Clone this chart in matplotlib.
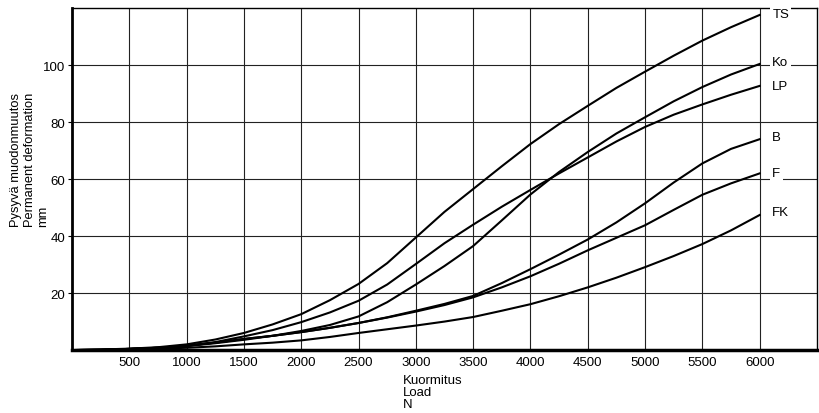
import matplotlib
matplotlib.use("Agg")
import matplotlib.pyplot as plt

plt.rcParams['font.family'] = ['Liberation Sans', 'DejaVu Sans']

# kuormitus / load, N
load = [0, 250, 500, 750, 1000, 1250, 1500, 1750, 2000, 2250, 2500, 2750, 3000,
        3250, 3500, 3750, 4000, 4250, 4500, 4750, 5000, 5250, 5500, 5750, 6000]

# pysyvä muodonmuutos / permanent deformation, mm
ts = [0, 0.2, 0.5, 1.0, 2.0, 3.7, 6.0, 9.0, 12.6, 17.5, 23.2, 30.5, 39.5,
      48.5, 56.5, 64.5, 72.3, 79.3, 85.7, 92.0, 97.7, 103.3, 108.6, 113.3, 117.6]
ko = [0, 0.1, 0.4, 0.8, 1.4, 2.4, 3.6, 5.0, 6.7, 8.8, 11.8, 16.8, 23.0,
      29.5, 36.5, 45.5, 54.6, 62.5, 69.5, 76.0, 81.7, 87.3, 92.3, 96.7, 100.4]
lp = [0, 0.1, 0.4, 0.8, 1.5, 2.8, 4.8, 7.0, 9.8, 13.2, 17.3, 23.0, 30.2,
      37.5, 44.0, 50.3, 56.2, 62.0, 67.6, 73.2, 78.3, 82.6, 86.2, 89.6, 92.7]
b = [0, 0.1, 0.4, 0.8, 1.5, 2.6, 3.9, 5.0, 6.3, 7.8, 9.5, 11.5, 13.8,
     16.2, 19.0, 23.5, 28.4, 33.5, 38.8, 44.8, 51.5, 58.8, 65.5, 70.6, 74.0]
f = [0, 0.1, 0.4, 0.8, 1.5, 2.6, 3.9, 5.0, 6.3, 7.8, 9.5, 11.4, 13.5,
     15.8, 18.5, 22.0, 25.9, 30.3, 35.0, 39.4, 43.8, 49.2, 54.5, 58.5, 62.0]
fk = [0, 0.05, 0.2, 0.5, 0.8, 1.3, 2.0, 2.6, 3.4, 4.6, 6.0, 7.3, 8.6,
      10.0, 11.6, 13.8, 16.1, 18.9, 22.0, 25.4, 29.1, 33.0, 37.2, 42.0, 47.4]

series = [("TS", ts), ("Ko", ko), ("LP", lp), ("B", b), ("F", f), ("FK", fk)]
label_y = {"TS": 118, "Ko": 101, "LP": 92.7, "B": 74.8, "F": 62.1, "FK": 48.4}

x_ticks = [500, 1000, 1500, 2000, 2500, 3000, 3500, 4000, 4500, 5000, 5500, 6000]
y_ticks = [20, 40, 60, 80, 100]

fig = plt.figure(figsize=(8.2, 4.14), dpi=100, facecolor='white')
ax = fig.add_axes([0.0878, 0.152, 0.9085, 0.826])

# ruudukko
for xv in x_ticks:
    ax.axvline(xv, color='#222222', lw=0.8, zorder=1)
for yv in y_ticks:
    ax.axhline(yv, color='#222222', lw=0.8, zorder=1)

for name, vals in series:
    ax.plot(load, vals, color='black', lw=1.5, zorder=3)
    ax.text(6110, label_y[name], name, fontsize=9.5, ha='left', va='center',
            bbox=dict(facecolor='white', edgecolor='none', pad=1.5), zorder=4)

ax.set_xlim(0, 6500)
ax.set_ylim(0, 120)
ax.set_xticks(x_ticks)
ax.set_yticks(y_ticks)
ax.tick_params(axis='both', labelsize=9.5, length=3, width=0.8, color='black', pad=2)
ax.tick_params(axis='x', length=0, pad=4)

ax.spines['left'].set_linewidth(2)
ax.spines['bottom'].set_linewidth(2.5)
ax.spines['top'].set_linewidth(1)
ax.spines['right'].set_linewidth(1)

fig.text(0.012, 0.452, "Pysyvä muodonmuutos\nPermanent deformation\nmm",
         rotation=90, ha='left', va='bottom', fontsize=9.3, multialignment='left',
         linespacing=1.2)
fig.text(0.491, 0.095, "Kuormitus\nLoad\nN", ha='left', va='top', fontsize=9.5,
         linespacing=1.0)

fig.savefig("out.png", dpi=100, facecolor='white')
